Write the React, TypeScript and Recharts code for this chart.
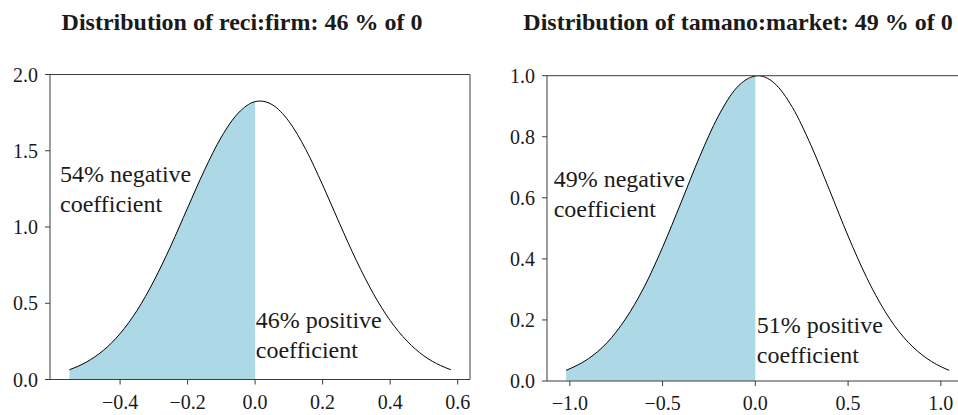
import {
  ComposedChart,
  Area,
  Line,
  XAxis,
  YAxis,
  ReferenceLine,
  ReferenceDot,
} from "recharts";

/* ── Data ────────────────────────────────────────────────── */
const firmX = [
  -0.55, -0.5, -0.45, -0.4, -0.35, -0.3, -0.25, -0.2, -0.15, -0.1, -0.05, 0,
  0.015, 0.05, 0.1, 0.15, 0.2, 0.25, 0.3, 0.35, 0.4, 0.45, 0.5, 0.55, 0.58,
];
const firmDensity = [
  0.064, 0.114, 0.19, 0.301, 0.452, 0.646, 0.875, 1.125, 1.373, 1.59, 1.747,
  1.822, 1.826, 1.803, 1.693, 1.509, 1.276, 1.024, 0.78, 0.564, 0.387, 0.252,
  0.155, 0.091, 0.064,
];

const marketX = [
  -1.02, -0.9, -0.8, -0.7, -0.6, -0.5, -0.4, -0.3, -0.2, -0.1, 0, 0.013, 0.1,
  0.2, 0.3, 0.4, 0.5, 0.6, 0.7, 0.8, 0.9, 1.0, 1.045,
];
const marketDensity = [
  0.035, 0.073, 0.125, 0.203, 0.307, 0.438, 0.585, 0.735, 0.867, 0.961, 0.999,
  1.0, 0.977, 0.896, 0.772, 0.625, 0.475, 0.339, 0.227, 0.143, 0.085, 0.047,
  0.035,
];

const firmTicksX = [-0.4, -0.2, 0, 0.2, 0.4, 0.6];
const firmTicksY = [0, 0.5, 1, 1.5, 2];
const marketTicksX = [-1, -0.5, 0, 0.5, 1];
const marketTicksY = [0, 0.2, 0.4, 0.6, 0.8, 1];

const firmTitle = "Distribution of reci:firm: 46 % of 0";
const marketTitle = "Distribution of tamano:market: 49 % of 0";
const firmNotes = { neg: "54% negative", pos: "46% positive" };
const marketNotes = { neg: "49% negative", pos: "51% positive" };

/* ── Styling ─────────────────────────────────────────────── */
const FONT = "Liberation Serif";
const AXIS = "#3c3c3c";
const TEXT = "#1a1a1a";
const FILL = "#add8e6";

const fmt = (v: number) => v.toFixed(1).replace("-", "\u2212");

function build(xs: number[], ys: number[]) {
  return xs.map((x, i) => ({ x, y: ys[i], neg: x <= 0 ? ys[i] : null }));
}

// eslint-disable-next-line @typescript-eslint/no-explicit-any
function NoteLabel(props: any) {
  const { viewBox, lines } = props;
  const x = viewBox?.x ?? 0;
  const y = viewBox?.y ?? 0;
  return (
    <text x={x} y={y} fontFamily={FONT} fontSize={24} fill={TEXT}>
      {lines.map((l: string, i: number) => (
        <tspan key={i} x={x} dy={i === 0 ? 0 : 30}>
          {l}
        </tspan>
      ))}
    </text>
  );
}

interface PanelProps {
  xs: number[];
  ys: number[];
  xDomain: [number, number];
  yDomain: [number, number];
  xTicks: number[];
  yTicks: number[];
  width: number;
  top: number;
  right: number;
  yAxisWidth: number;
  xAxisHeight: number;
  negAt: [number, number];
  posAt: [number, number];
  notes: { neg: string; pos: string };
}

function Panel(p: PanelProps) {
  const data = build(p.xs, p.ys);
  const tick = { fontSize: 20, fill: TEXT, fontFamily: FONT };
  return (
    <ComposedChart
      width={p.width}
      height={415}
      data={data}
      margin={{ top: p.top, right: p.right, bottom: 0, left: 0 }}
    >
      <XAxis
        type="number"
        dataKey="x"
        domain={p.xDomain}
        ticks={p.xTicks}
        allowDataOverflow
        tickFormatter={fmt}
        tick={tick}
        stroke={AXIS}
        tickSize={5}
        tickMargin={10}
        height={p.xAxisHeight}
      />
      <YAxis
        type="number"
        domain={p.yDomain}
        ticks={p.yTicks}
        allowDataOverflow
        tickFormatter={fmt}
        tick={tick}
        stroke={AXIS}
        tickSize={5}
        tickMargin={7}
        width={p.yAxisWidth}
      />
      <Area
        type="monotone"
        dataKey="neg"
        stroke="none"
        fill={FILL}
        fillOpacity={1}
        baseValue={0}
        isAnimationActive={false}
      />
      <Line
        type="monotone"
        dataKey="y"
        stroke="#000"
        strokeWidth={1}
        dot={false}
        activeDot={false}
        isAnimationActive={false}
      />
      <ReferenceLine y={p.yDomain[1]} stroke={AXIS} strokeWidth={1} />
      <ReferenceLine x={p.xDomain[1]} stroke={AXIS} strokeWidth={1} />
      <ReferenceDot
        x={p.negAt[0]}
        y={p.negAt[1]}
        r={0}
        stroke="none"
        label={<NoteLabel lines={[p.notes.neg, "coefficient"]} />}
      />
      <ReferenceDot
        x={p.posAt[0]}
        y={p.posAt[1]}
        r={0}
        stroke="none"
        label={<NoteLabel lines={[p.notes.pos, "coefficient"]} />}
      />
    </ComposedChart>
  );
}

const titleStyle = {
  position: "absolute" as const,
  top: 10,
  width: 520,
  textAlign: "center" as const,
  fontFamily: FONT,
  fontWeight: 700,
  fontSize: 24,
  lineHeight: "24px",
  color: TEXT,
  whiteSpace: "nowrap" as const,
};

export default function App() {
  return (
    <div
      style={{
        position: "absolute",
        left: 0,
        top: 0,
        width: 958,
        height: 415,
        overflow: "hidden",
        background: "#fff",
      }}
    >
      <div style={{ ...titleStyle, left: 242 - 260 }}>{firmTitle}</div>
      <div style={{ ...titleStyle, left: 738 - 260 }}>{marketTitle}</div>

      <div style={{ position: "absolute", left: 0, top: 0 }}>
        <Panel
          xs={firmX}
          ys={firmDensity}
          xDomain={[-0.6076, 0.6366]}
          yDomain={[0, 2]}
          xTicks={firmTicksX}
          yTicks={firmTicksY}
          width={480}
          top={74.5}
          right={10}
          yAxisWidth={50}
          xAxisHeight={35.5}
          negAt={[-0.578, 1.296]}
          posAt={[0.002, 0.34]}
          notes={firmNotes}
        />
      </div>

      <div style={{ position: "absolute", left: 480, top: 0 }}>
        <Panel
          xs={marketX}
          ys={marketDensity}
          xDomain={[-1.123, 1.148]}
          yDomain={[0, 1]}
          xTicks={marketTicksX}
          yTicks={marketTicksY}
          width={500}
          top={75.7}
          right={11.7}
          yAxisWidth={67}
          xAxisHeight={34}
          negAt={[-1.087, 0.635]}
          posAt={[0.008, 0.157]}
          notes={marketNotes}
        />
      </div>
    </div>
  );
}
